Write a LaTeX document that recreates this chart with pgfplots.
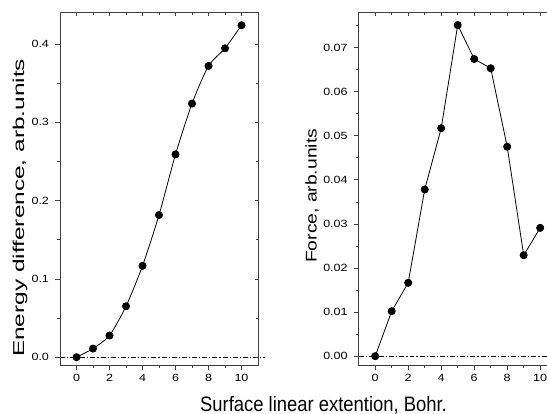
\documentclass[border=0pt]{standalone}
\usepackage{pgfplots}
\pgfplotsset{compat=1.18}
\usepackage{fontspec}
\setmainfont{Liberation Sans}
\newfontfamily\ticklabfont[FakeStretch=1.2]{Liberation Sans}
\newfontfamily\leftlabfont[FakeStretch=1.55]{Liberation Sans}
\newfontfamily\rightlabfont[FakeStretch=1.25]{Liberation Sans}
\newfontfamily\xlabfont[FakeStretch=0.88]{Liberation Sans}
\newcommand{\tl}{\ticklabfont\fontsize{10.5}{12}\selectfont}

\pgfplotsset{
  panel/.style={
    scale only axis, width=198bp, height=352.3bp,
    xmin=-1, xmax=11,
    axis line style={black!75, line width=0.8pt},
    tick style={black!75, line width=0.7pt},
    major tick length=5bp, minor tick length=3bp,
    xtick={0,2,...,10}, minor xtick={1,3,...,9},
    scaled ticks=false,
    /pgf/number format/assume math mode=true,
    clip=false,
  },
  lowerticks/.style={panel, tick align=outside, xtick pos=left, ytick pos=left,
    xticklabel={\tl\pgfmathprintnumber{\tick}},
    yticklabel={\tl\pgfmathprintnumber{\tick}},
    yticklabel style={xshift=-2.5bp}, xticklabel style={yshift=-1bp}},
  upperticks/.style={panel, tick align=inside, xtick pos=right, ytick pos=right,
    xticklabels={}, yticklabels={}, major tick length=3bp, minor tick length=2bp},
  curve/.style={black, line width=0.8pt, mark=*, mark size=3.6pt, mark options={solid}},
  zeroline/.style={black, line width=0.8pt, dash pattern=on 5pt off 2pt on 1.2pt off 2pt},
}

\begin{document}
\begin{tikzpicture}
% left panel: energy difference
\begin{axis}[lowerticks, at={(60bp,-365bp)}, anchor=south west,
  ymin=-0.010, ymax=0.44,
  ytick={0,0.1,...,0.4}, minor ytick={0.05,0.15,...,0.35},
  yticklabel style={/pgf/number format/fixed, /pgf/number format/fixed zerofill,
    /pgf/number format/precision=1},
  ylabel={Energy difference, arb.units},
  ylabel style={at={(axis description cs:-0.202,0.446)}, anchor=center,
    font=\leftlabfont\fontsize{15.8}{18}\selectfont},
]
\addplot[zeroline] coordinates {(-1,0) (11.4,0)};
\addplot[curve, smooth, tension=0.4] coordinates {
  (0,0) (1,0.011) (2,0.0277) (3,0.065) (4,0.1167) (5,0.1815)
  (6,0.259) (7,0.324) (8,0.372) (9,0.3945) (10,0.424)};
\end{axis}
\begin{axis}[upperticks, at={(60bp,-365bp)}, anchor=south west,
  ymin=-0.010, ymax=0.44,
  ytick={0,0.1,...,0.4}, minor ytick={0.05,0.15,...,0.35},
]
\end{axis}

% right panel: force
\begin{axis}[lowerticks, at={(358.7bp,-365bp)}, anchor=south west,
  ymin=-0.002, ymax=0.0779,
  ytick={0,0.01,...,0.07}, minor ytick={0.005,0.015,...,0.075},
  yticklabel style={/pgf/number format/fixed, /pgf/number format/fixed zerofill,
    /pgf/number format/precision=2},
  ylabel={Force, arb.units},
  ylabel style={at={(axis description cs:-0.236,0.48)}, anchor=center,
    font=\rightlabfont\fontsize{15.5}{18}\selectfont},
]
\addplot[zeroline] coordinates {(-1,0) (11,0)};
\addplot[curve] coordinates {
  (0,0) (1,0.0102) (2,0.01665) (3,0.0378) (4,0.0517) (5,0.0751)
  (6,0.0674) (7,0.0653) (8,0.0475) (9,0.0229) (10,0.0291)};
\end{axis}
\begin{axis}[upperticks, at={(358.7bp,-365bp)}, anchor=south west,
  ymin=-0.002, ymax=0.0779,
  ytick={0,0.01,...,0.07}, minor ytick={0.005,0.015,...,0.075},
]
\end{axis}

\node[font=\xlabfont\fontsize{21}{24}\selectfont, anchor=base] at (323.5bp,-411bp)
  {Surface linear extention, Bohr.};

\pgfresetboundingbox
\useasboundingbox (0,0) rectangle (547bp,-414bp);
\end{tikzpicture}
\end{document}
